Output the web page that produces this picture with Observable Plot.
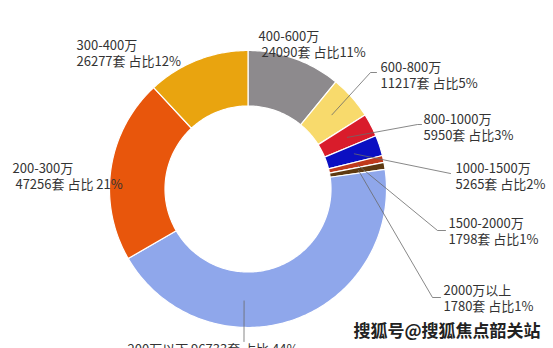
<!DOCTYPE html>
<html>
<head>
<meta charset="utf-8">
<script src="https://cdn.jsdelivr.net/npm/d3@7"></script>
<script src="https://cdn.jsdelivr.net/npm/@observablehq/plot@0.6"></script>
<style>
  html, body { margin: 0; padding: 0; background: #fff; }
  #chart svg { display: block; }
</style>
</head>
<body>
<div id="chart"></div>
<script>
// ---- data (clockwise from 12 o'clock) ----
const categories = ["400-600万", "600-800万", "800-1000万", "1000-1500万", "1500-2000万", "2000万以上", "200万以下", "200-300万", "300-400万"];
const counts = [24090, 11217, 5950, 5265, 1798, 1780, 96733, 47256, 26277];
const shareText = ["占比11%", "占比5%", "占比3%", "占比2%", "占比1%", "占比1%", "占比 44%", "占比 21%", "占比12%"];
const watermark = "搜狐号@搜狐焦点韶关站";

// ---- styles ----
const sliceColors = ["#8d8a8d", "#f8da6c", "#d91c2b", "#0b0fc2", "#c03a1c", "#5e3a12", "#8fa7eb", "#e8560c", "#e9a40f"];

// ---- layout (pixels): donut geometry and label placement ----
const W = 553, H = 348;
const CX = 247.5, CY = 188.5, R_OUT = 138.5, R_IN = 83, R_LEADER = 112;
const labelLayout = {
  "400-600万":   {x: 258, y: 39, indent: true},
  "600-800万":   {x: 380, y: 70, elbow: [[370, 72], [376, 72]]},
  "800-1000万":  {x: 423, y: 122, elbow: [[417, 124], [421, 124]]},
  "1000-1500万": {x: 455, y: 171, elbow: [[450, 173]]},
  "1500-2000万": {x: 448, y: 226, elbow: [[437, 230], [445, 230]]},
  "2000万以上":  {x: 443, y: 293, elbow: [[432, 297], [440, 297]]},
  "200万以下":   {x: 127, y: 352, oneLine: true, leaderAngle: 182, elbow: [[243.5, 341]]},
  "200-300万":   {x: 12, y: 171, indent: true},
  "300-400万":   {x: 76, y: 48}
};
const FS = 13, LH = 1.2;

// pixel <-> data units (donut radius = 1)
const px = (x) => (x - CX) / R_OUT;
const py = (y) => (CY - y) / R_OUT;

// ---- geometry from data ----
const pie = d3.pie().sort(null).startAngle(0).endAngle(2 * Math.PI)(counts);
const rIn = R_IN / R_OUT;
const slicePts = [];
pie.forEach((p, i) => {
  const n = Math.max(3, Math.ceil((p.endAngle - p.startAngle) * 180 / Math.PI) + 1);
  const outer = d3.range(n).map(k => p.startAngle + (p.endAngle - p.startAngle) * k / (n - 1));
  outer.forEach(a => slicePts.push({key: categories[i], color: sliceColors[i], u: Math.sin(a), v: Math.cos(a)}));
  outer.slice().reverse().forEach(a => slicePts.push({key: categories[i], color: sliceColors[i], u: rIn * Math.sin(a), v: rIn * Math.cos(a)}));
});

const leaderPts = [];
const labels = [];
pie.forEach((p, i) => {
  const cat = categories[i];
  const L = labelLayout[cat];
  const line2 = `${counts[i]}套 ${shareText[i]}`;
  const text = L.oneLine ? `${cat} ${line2}` : `${cat}\n${L.indent ? "\u00a0" : ""}${line2}`;
  labels.push({text, u: px(L.x), v: py(L.y - 0.71 * FS)});
  if (L.elbow) {
    const a = L.leaderAngle != null ? L.leaderAngle * Math.PI / 180 : (p.startAngle + p.endAngle) / 2;
    const r = R_LEADER / R_OUT;
    leaderPts.push({key: cat, u: r * Math.sin(a), v: r * Math.cos(a)});
    L.elbow.forEach(([ex, ey]) => leaderPts.push({key: cat, u: px(ex), v: py(ey)}));
  }
});

const chart = Plot.plot({
  width: W,
  height: H,
  margin: 0,
  x: {domain: [px(0), px(W)], axis: null},
  y: {domain: [py(H), py(0)], axis: null},
  style: {fontFamily: "'Noto Sans CJK SC', 'Noto Sans', sans-serif", background: "#fff"},
  marks: [
    Plot.line(slicePts, {x: "u", y: "v", z: "key", fill: "color", stroke: "#fff", strokeWidth: 1.2, curve: "linear-closed"}),
    Plot.line(leaderPts, {x: "u", y: "v", z: "key", stroke: "#6a6a6a", strokeWidth: 0.8}),
    Plot.text(labels, {x: "u", y: "v", text: "text", textAnchor: "start", lineAnchor: "top", fontSize: FS, lineHeight: LH, fill: "#333"}),
    Plot.text([watermark], {x: px(353), y: py(336 - 0.71 * 17), text: d => d, textAnchor: "start", lineAnchor: "top", fontSize: 17, fontWeight: "bold", fill: "#222", stroke: "#fff", strokeWidth: 3})
  ]
});
document.getElementById("chart").appendChild(chart);
</script>
</body>
</html>
